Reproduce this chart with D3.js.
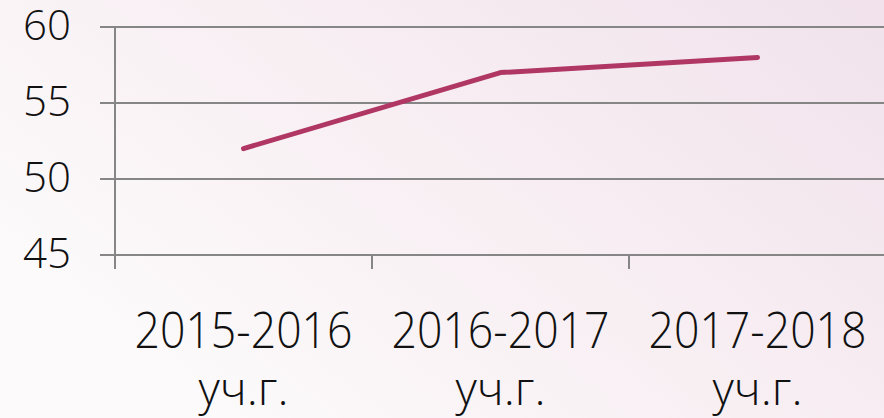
<!DOCTYPE html>
<html>
<head>
<meta charset="utf-8">
<script src="https://cdn.jsdelivr.net/npm/d3@7"></script>
<style>
  html, body { margin: 0; padding: 0; }
  body { width: 884px; height: 418px; overflow: hidden; }
  svg text { font-family: 'Open Sans', 'Noto Sans', sans-serif; font-weight: 300; fill: #111; }
</style>
</head>
<body>
<svg id="chart" width="884" height="418"></svg>
<script>
const categories = ['2015-2016', '2016-2017', '2017-2018'];
const categorySuffix = 'уч.г.';
const values = [52, 57, 58];
const yTicks = [45, 50, 55, 60];

const width = 884, height = 418;
const plotLeft = 115, plotRight = 886, plotTop = 27, plotBottom = 255;

const svg = d3.select('#chart');

const defs = svg.append('defs');
const grad = defs.append('linearGradient')
  .attr('id', 'bg')
  .attr('x1', '0%').attr('y1', '60%')
  .attr('x2', '100%').attr('y2', '0%');
grad.append('stop').attr('offset', '0%').attr('stop-color', '#fcfafb');
grad.append('stop').attr('offset', '45%').attr('stop-color', '#f8eff3');
grad.append('stop').attr('offset', '100%').attr('stop-color', '#f1e2ec');

svg.append('rect')
  .attr('width', width)
  .attr('height', height)
  .attr('fill', 'url(#bg)');

const xScale = d3.scaleBand()
  .domain(categories)
  .range([plotLeft, plotRight])
  .padding(0);

const yScale = d3.scaleLinear()
  .domain([45, 60])
  .range([plotBottom, plotTop]);

// horizontal grid lines
svg.append('g')
  .selectAll('line')
  .data(yTicks)
  .enter()
  .append('line')
  .attr('x1', plotLeft - 15)
  .attr('x2', width)
  .attr('y1', d => yScale(d))
  .attr('y2', d => yScale(d))
  .attr('stroke', '#868686')
  .attr('stroke-width', 2);

// vertical axis
svg.append('line')
  .attr('x1', plotLeft).attr('x2', plotLeft)
  .attr('y1', yScale(60)).attr('y2', plotBottom + 14)
  .attr('stroke', '#868686')
  .attr('stroke-width', 2);

// bottom ticks at category boundaries
svg.append('g')
  .selectAll('line')
  .data(categories.slice(1))
  .enter()
  .append('line')
  .attr('x1', d => xScale(d))
  .attr('x2', d => xScale(d))
  .attr('y1', plotBottom)
  .attr('y2', plotBottom + 14)
  .attr('stroke', '#868686')
  .attr('stroke-width', 2);

// y labels
svg.append('g')
  .selectAll('text')
  .data(yTicks)
  .enter()
  .append('text')
  .attr('x', 71)
  .attr('y', d => yScale(d) + 13)
  .attr('text-anchor', 'end')
  .attr('font-size', 42)
  .text(d => d);

// x labels
const cx = d => xScale(d) + xScale.bandwidth() / 2;

svg.append('g')
  .selectAll('text')
  .data(categories)
  .enter()
  .append('text')
  .attr('x', cx)
  .attr('y', 348)
  .attr('text-anchor', 'middle')
  .attr('font-size', 49)
  .attr('textLength', 218)
  .attr('lengthAdjust', 'spacingAndGlyphs')
  .text(d => d);

svg.append('g')
  .selectAll('text')
  .data(categories)
  .enter()
  .append('text')
  .attr('x', cx)
  .attr('y', 405)
  .attr('text-anchor', 'middle')
  .attr('font-size', 46)
  .attr('textLength', 90)
  .attr('lengthAdjust', 'spacingAndGlyphs')
  .text(categorySuffix);

// line
const points = categories.map((c, i) => ({ cat: c, value: values[i] }));

svg.append('path')
  .datum(points)
  .attr('fill', 'none')
  .attr('stroke', '#b03763')
  .attr('stroke-width', 5)
  .attr('stroke-linecap', 'round')
  .attr('stroke-linejoin', 'round')
  .attr('d', d3.line()
    .x(d => cx(d.cat))
    .y(d => yScale(d.value))
  );
</script>
</body>
</html>
